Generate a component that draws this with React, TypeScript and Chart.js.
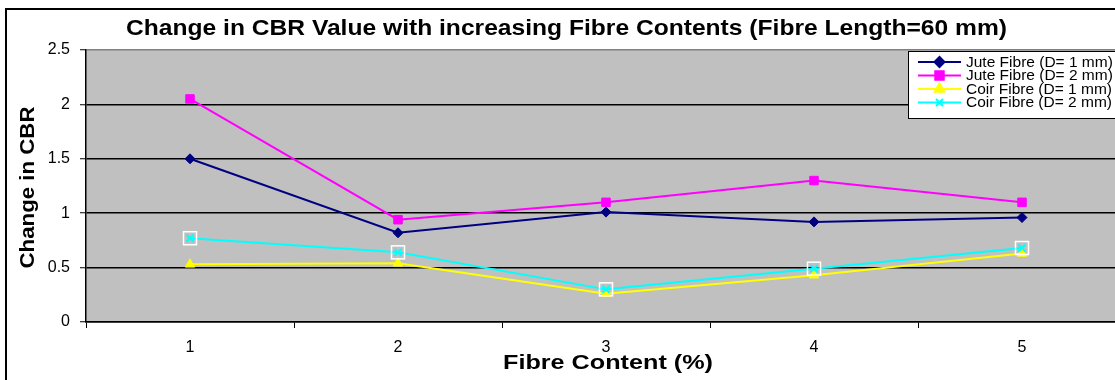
import React, { useEffect, useRef } from "react";
import { Chart, registerables } from "chart.js";
import { drawPoint } from "chart.js/helpers";

Chart.register(...registerables);

// Fibre content (%) on the category axis
const fibreContent = ["1", "2", "3", "4", "5"];

// Change in CBR for each fibre type / diameter
const juteD1 = [1.5, 0.82, 1.01, 0.92, 0.96];
const juteD2 = [2.05, 0.94, 1.1, 1.3, 1.1];
const coirD1 = [0.53, 0.54, 0.26, 0.43, 0.63];
const coirD2 = [0.77, 0.64, 0.3, 0.49, 0.68];

const seriesLabels = [
  "Jute Fibre (D= 1 mm)",
  "Jute Fibre (D= 2 mm)",
  "Coir Fibre (D= 1 mm)",
  "Coir Fibre (D= 2 mm)",
];

const yTicks = [0, 0.5, 1, 1.5, 2, 2.5];

const chartTitle = "Change in CBR Value with increasing Fibre Contents (Fibre Length=60 mm)";
const xTitle = "Fibre Content (%)";
const yTitle = "Change in CBR";

const W = 1150;
const H = 390;
const FONT = "'Liberation Sans', Arial, sans-serif";

// white page, outer frame and grey plot background
const backgroundPlugin = {
  id: "frameBackground",
  beforeDraw(chart: any) {
    const { ctx, chartArea: a } = chart;
    ctx.save();
    ctx.fillStyle = "#ffffff";
    ctx.fillRect(0, 0, chart.width, chart.height);
    ctx.strokeStyle = "#000000";
    ctx.lineWidth = 2;
    ctx.strokeRect(6, 9, chart.width + 10, chart.height + 10);
    ctx.fillStyle = "#c0c0c0";
    ctx.fillRect(a.left, a.top, a.right - a.left, a.bottom - a.top);
    ctx.restore();
  },
};

// white square drawn around each "x" marker of the last series
const markerBoxPlugin = {
  id: "markerBox",
  afterDatasetsDraw(chart: any) {
    const { ctx } = chart;
    const meta = chart.getDatasetMeta(3);
    ctx.save();
    ctx.strokeStyle = "#ffffff";
    ctx.lineWidth = 1.5;
    meta.data.forEach((p: any) => {
      ctx.strokeRect(p.x - 6.5, p.y - 6.5, 13, 13);
    });
    ctx.restore();
  },
};

function drawStretchedText(
  ctx: CanvasRenderingContext2D,
  text: string,
  cx: number,
  cy: number,
  font: string,
  targetWidth: number,
  rotate: boolean
) {
  ctx.save();
  ctx.translate(cx, cy);
  if (rotate) ctx.rotate(-Math.PI / 2);
  ctx.font = font;
  const w = ctx.measureText(text).width;
  ctx.scale(targetWidth / w, 1);
  ctx.fillStyle = "#000000";
  ctx.textAlign = "center";
  ctx.textBaseline = "middle";
  ctx.fillText(text, 0, 0);
  ctx.restore();
}

// chart title and both axis titles
const titlesPlugin = {
  id: "titles",
  afterDraw(chart: any) {
    const { ctx } = chart;
    drawStretchedText(ctx, chartTitle, 566.5, 28.5, `bold 22px ${FONT}`, 881, false);
    drawStretchedText(ctx, xTitle, 608, 363, `bold 20px ${FONT}`, 210, false);
    drawStretchedText(ctx, yTitle, 28, 187.5, `bold 20px ${FONT}`, 162, true);
  },
};

// boxed legend sitting over the upper right of the plot
const legendPlugin = {
  id: "boxLegend",
  afterDraw(chart: any) {
    const { ctx } = chart;
    const bx = 908;
    const by = 51;
    const rows = [62, 75.5, 89, 102.5];
    ctx.save();
    ctx.fillStyle = "#ffffff";
    ctx.fillRect(bx, by, 240, 67);
    ctx.strokeStyle = "#000000";
    ctx.lineWidth = 1;
    ctx.strokeRect(bx + 0.5, by + 0.5, 240, 67);
    chart.data.datasets.forEach((ds: any, i: number) => {
      const y = rows[i];
      ctx.strokeStyle = ds.borderColor;
      ctx.lineWidth = 2;
      ctx.beginPath();
      ctx.moveTo(918, y);
      ctx.lineTo(961, y);
      ctx.stroke();
      ctx.fillStyle = ds.pointBackgroundColor;
      ctx.strokeStyle = ds.pointBorderColor;
      drawPoint(
        ctx,
        {
          pointStyle: ds.pointStyle,
          radius: ds.pointRadius,
          rotation: 0,
          borderWidth: ds.pointBorderWidth,
        } as any,
        939.5,
        y
      );
      ctx.fillStyle = "#000000";
      ctx.font = `15.5px ${FONT}`;
      ctx.textAlign = "left";
      ctx.textBaseline = "middle";
      ctx.fillText(ds.label, 966, y + 0.5);
    });
    ctx.restore();
  },
};

export default function App() {
  const canvasRef = useRef<HTMLCanvasElement | null>(null);

  useEffect(() => {
    const canvas = canvasRef.current;
    if (!canvas) return;

    const makeSeries = (
      label: string,
      data: number[],
      color: string,
      pointStyle: string,
      radius: number,
      pointBorderWidth: number,
      order: number
    ) => ({
      label,
      data,
      borderColor: color,
      backgroundColor: color,
      pointBackgroundColor: color,
      pointBorderColor: color,
      pointStyle,
      pointRadius: radius,
      pointHoverRadius: radius,
      pointBorderWidth,
      borderWidth: 2,
      tension: 0,
      fill: false,
      order,
    });

    const chart = new Chart(canvas, {
      type: "line",
      data: {
        labels: fibreContent,
        datasets: [
          makeSeries(seriesLabels[0], juteD1, "#000080", "rectRot", 5, 1, 3),
          makeSeries(seriesLabels[1], juteD2, "#ff00ff", "rect", 6, 1, 2),
          makeSeries(seriesLabels[2], coirD1, "#ffff00", "triangle", 5.5, 1, 1),
          makeSeries(seriesLabels[3], coirD2, "#00ffff", "crossRot", 5, 2, 0),
        ] as any,
      },
      options: {
        responsive: false,
        animation: false,
        devicePixelRatio: 1,
        events: [],
        layout: { padding: { left: 0, top: 50, right: W - 1126, bottom: 0 } },
        plugins: {
          legend: { display: false },
          title: { display: false },
          tooltip: { enabled: false },
        },
        scales: {
          x: {
            type: "category",
            offset: true,
            grid: {
              offset: true,
              drawOnChartArea: false,
              drawTicks: true,
              tickLength: 6,
              tickColor: "#000000",
              tickWidth: 1,
            },
            border: { color: "#000000", width: 1.5 },
            ticks: {
              color: "#000000",
              font: { family: FONT, size: 16 },
              padding: 10,
              maxRotation: 0,
            },
            afterFit: (s: any) => {
              s.height = H - 322;
            },
          },
          y: {
            min: yTicks[0],
            max: yTicks[yTicks.length - 1],
            afterBuildTicks: (s: any) => {
              s.ticks = yTicks.map((v) => ({ value: v }));
            },
            ticks: {
              color: "#000000",
              font: { family: FONT, size: 16 },
              padding: 10,
              callback: (v: any) => String(v),
            },
            grid: {
              color: (c: any) => (c.tick && c.tick.value === 2.5 ? "#808080" : "#000000"),
              lineWidth: 1.5,
              tickColor: "#000000",
              tickLength: 6,
              tickWidth: 1,
            },
            border: { color: "#000000", width: 1.5 },
            afterFit: (s: any) => {
              s.width = 86;
            },
          },
        },
      } as any,
      plugins: [backgroundPlugin, markerBoxPlugin, titlesPlugin, legendPlugin],
    });

    return () => {
      chart.destroy();
    };
  }, []);

  return (
    <div
      style={{
        position: "fixed",
        left: 0,
        top: 0,
        width: 1115,
        height: 380,
        overflow: "hidden",
        background: "#ffffff",
      }}
    >
      <canvas ref={canvasRef} width={W} height={H} style={{ display: "block", width: W, height: H }} />
    </div>
  );
}
